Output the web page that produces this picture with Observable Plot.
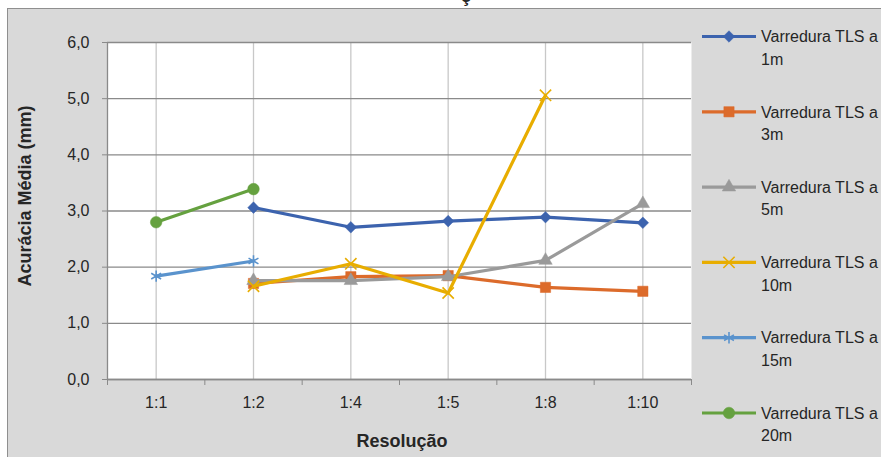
<!DOCTYPE html>
<html>
<head>
<meta charset="utf-8">
<script src="https://cdn.jsdelivr.net/npm/d3@7"></script>
<script src="https://cdn.jsdelivr.net/npm/@observablehq/plot@0.6"></script>
<style>
  html, body { margin: 0; padding: 0; background: #ffffff; }
  #wrap { position: relative; width: 881px; height: 457px; overflow: hidden; background: #ffffff; }
  #panel { position: absolute; left: 7px; top: 8px; width: 880px; height: 460px; background: #d9d9d9;
           border-left: 1.5px solid #8f8f8f; border-top: 1.5px solid #8f8f8f; box-sizing: border-box; }
  #chart, #overlay { position: absolute; left: 0; top: 0; }
</style>
</head>
<body>
<div id="wrap">
  <div id="panel"></div>
  <div id="chart"></div>
  <svg id="overlay" width="881" height="457"></svg>
</div>
<script>
// ---- data ----
const categories = ["1:1", "1:2", "1:4", "1:5", "1:8", "1:10"];
const yTicks = [0, 1, 2, 3, 4, 5, 6];
const seriesNames = ["Varredura TLS a 1m", "Varredura TLS a 3m", "Varredura TLS a 5m",
                     "Varredura TLS a 10m", "Varredura TLS a 15m", "Varredura TLS a 20m"];
const v1m  = [null, 3.06, 2.71, 2.82, 2.89, 2.79];
const v3m  = [null, 1.71, 1.83, 1.85, 1.64, 1.57];
const v5m  = [null, 1.76, 1.76, 1.83, 2.12, 3.13];
const v10m = [null, 1.66, 2.06, 1.54, 5.06, null];
const v15m = [1.84, 2.11, null, null, null, null];
const v20m = [2.80, 3.39, null, null, null, null];
const seriesValues = [v1m, v3m, v5m, v10m, v15m, v20m];

// ---- styles ----
const colors  = ["#3c63ae", "#dc6b2b", "#9a9a9a", "#e8ad00", "#5a93cd", "#65a13f"];
const symbols = ["diamond2", "square", "triangle", "times", "asterisk", "circle"];
const d3symbols = [d3.symbolDiamond2, d3.symbolSquare, d3.symbolTriangle, d3.symbolTimes, d3.symbolAsterisk, d3.symbolCircle];
const filled  = [true, true, true, false, false, true];
const radii   = [5.2, 5.8, 5.0, 5.2, 5.4, 5.8];

const rows = [];
seriesValues.forEach((vals, s) => {
  vals.forEach((v, i) => { if (v != null) rows.push({s, name: seriesNames[s], i, cat: categories[i], v}); });
});
const boundaries = d3.range(categories.length + 1).map(i => i - 0.5);
const fmt = d => d3.format(".1f")(d).replace(".", ",");
const font = "'Liberation Sans', Arial, sans-serif";

const marks = [
  Plot.frame({fill: "white", stroke: null}),
  Plot.gridX(d3.range(categories.length), {stroke: "#c8c8c8", strokeOpacity: 1, strokeWidth: 1.3}),
  Plot.gridY(yTicks, {stroke: "#8a8a8a", strokeOpacity: 1, strokeWidth: 1.3}),
  Plot.ruleY([0], {stroke: "#8a8a8a", strokeWidth: 1.3}),
  Plot.ruleX([boundaries[0]], {stroke: "#8a8a8a", strokeWidth: 1.3}),
  Plot.axisY({ticks: yTicks, tickFormat: fmt, tickSize: 5, tickPadding: 13, stroke: "#8a8a8a",
              fontSize: 16, color: "#262626", label: null}),
  Plot.axisX({ticks: boundaries, tickFormat: () => "", tickSize: 6, stroke: "#8a8a8a", label: null}),
  Plot.axisX({ticks: d3.range(categories.length), tickFormat: i => categories[i], tickSize: 0,
              tickPadding: 17, fontSize: 16, color: "#262626", label: null})
];
seriesValues.forEach((vals, s) => {
  const data = rows.filter(r => r.s === s);
  marks.push(Plot.line(data, {x: "i", y: "v", stroke: colors[s], strokeWidth: 3.2, strokeLinejoin: "round"}));
  marks.push(Plot.dot(data, {x: "i", y: "v", symbol: () => symbols[s], r: radii[s],
    fill: filled[s] ? colors[s] : "none", stroke: colors[s], strokeWidth: filled[s] ? 0.5 : 1.6}));
});

const chart = Plot.plot({
  width: 881, height: 457,
  marginLeft: 107, marginRight: 190, marginTop: 42, marginBottom: 78,
  style: {background: "transparent", fontFamily: font},
  x: {type: "linear", domain: [boundaries[0], boundaries[boundaries.length - 1]]},
  y: {domain: [0, 6]},
  marks
});
document.getElementById("chart").appendChild(chart);

// ---- titles & legend ----
const ov = d3.select("#overlay");
ov.append("text").attr("x", 466).attr("y", 2).attr("text-anchor", "middle")
  .attr("font-family", font).attr("font-weight", "bold").attr("font-size", 19).attr("fill", "#262626").text("ç");
ov.append("text").attr("transform", "translate(31,196) rotate(-90)").attr("text-anchor", "middle")
  .attr("font-family", font).attr("font-weight", "bold").attr("font-size", 18).attr("fill", "#262626")
  .text("Acurácia Média (mm)");
ov.append("text").attr("x", 402).attr("y", 447).attr("text-anchor", "middle")
  .attr("font-family", font).attr("font-weight", "bold").attr("font-size", 18).attr("fill", "#262626")
  .text("Resolução");

seriesNames.forEach((name, s) => {
  const cy = 36.5 + 75.3 * s;
  const g = ov.append("g");
  g.append("line").attr("x1", 702).attr("x2", 756).attr("y1", cy).attr("y2", cy)
    .attr("stroke", colors[s]).attr("stroke-width", 3.2);
  g.append("path").attr("transform", `translate(729,${cy})`)
    .attr("d", d3.symbol(d3symbols[s], Math.PI * radii[s] * radii[s])())
    .attr("fill", filled[s] ? colors[s] : "none").attr("stroke", colors[s]).attr("stroke-width", filled[s] ? 0.5 : 1.6);
  const parts = name.split(" ");
  const last = parts.pop();
  const t = g.append("text").attr("font-family", font).attr("font-size", 16).attr("fill", "#262626");
  t.append("tspan").attr("x", 761).attr("y", cy + 5.7).text(parts.join(" "));
  t.append("tspan").attr("x", 761).attr("y", cy + 28.2).text(last);
});
</script>
</body>
</html>
